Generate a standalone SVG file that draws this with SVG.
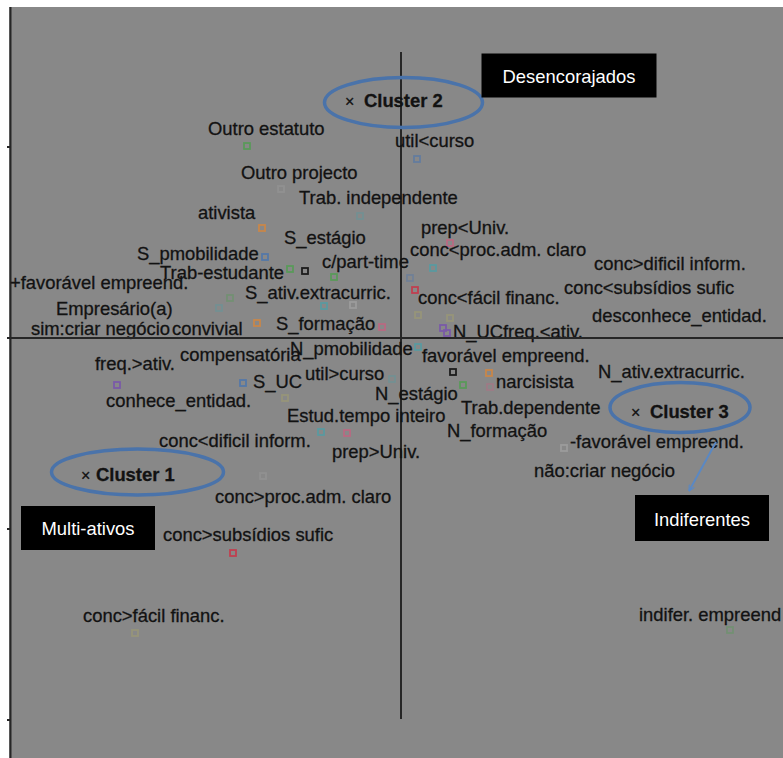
<svg xmlns="http://www.w3.org/2000/svg" width="783" height="758" viewBox="0 0 783 758">
<style>
text{font-family:"Liberation Sans",Arial,sans-serif;font-size:18.4px;fill:#121212;stroke:#121212;stroke-width:0.3}
.lbl{fill:#fff;stroke:none;text-anchor:middle}
.cl{font-weight:bold}
.x{font-weight:normal;font-size:16px}
.axis{stroke:#262626;stroke-width:2;fill:none}
.ell{fill:none;stroke:#4a73aa;stroke-width:3.5}
.box{fill:#000}
.m{fill:none;stroke-width:1.8}
.g{stroke:#5a9a5a}.o{stroke:#c8874a}.b{stroke:#5478a8}.t{stroke:#5a9aa0}.p{stroke:#b86a82}.r{stroke:#c04050}
.v{stroke:#7a5aa8}.d{stroke:#1c1c1c}.gr{stroke:#9c9c9c}.y{stroke:#a8a468}
.f{opacity:0.45}
.arrow{stroke:#5a88c4;stroke-width:2;fill:none}
</style>
<defs>
<marker id="open" viewBox="0 0 12 12" refX="11" refY="6" markerWidth="7" markerHeight="7" orient="auto" markerUnits="userSpaceOnUse">
<path d="M1,1 L11,6 L1,11" fill="none" stroke="#5a88c4" stroke-width="2"/>
</marker>
</defs>
<rect x="0" y="0" width="783" height="758" fill="#fff"/>
<rect x="9" y="7" width="774" height="751" fill="#888"/>
<g id="axes">
<line class="axis" x1="10.5" y1="7" x2="10.5" y2="758" stroke-width="2.5"/>
<line class="axis" x1="7" y1="147" x2="10" y2="147"/>
<line class="axis" x1="7" y1="529" x2="10" y2="529"/>
<line class="axis" x1="7" y1="720" x2="10" y2="720"/>
<line class="axis" x1="401" y1="52" x2="401" y2="719"/>
</g>
<g id="markers">
<rect class="m g" x="244" y="143" width="6" height="6"/>
<rect class="m b" x="414" y="156" width="6" height="6" opacity="0.7"/>
<rect class="m gr f" x="278" y="186" width="6" height="6"/>
<rect class="m t f" x="357" y="213" width="6" height="6"/>
<rect class="m o" x="259" y="225" width="6" height="6"/>
<rect class="m p" x="447" y="240" width="6" height="6"/>
<rect class="m b" x="262" y="254" width="6" height="6"/>
<rect class="m t" x="430" y="265" width="6" height="6"/>
<rect class="m g" x="287" y="266" width="6" height="6"/>
<rect class="m d" x="302" y="268" width="6" height="6"/>
<rect class="m g" x="331" y="274" width="6" height="6"/>
<rect class="m b f" x="407" y="275" width="6" height="6"/>
<rect class="m r" x="412" y="287" width="6" height="6"/>
<rect class="m g f" x="227" y="295" width="6" height="6"/>
<rect class="m t f" x="216" y="305" width="6" height="6"/>
<rect class="m t" x="321" y="303" width="6" height="6"/>
<rect class="m gr" x="350" y="302" width="6" height="6"/>
<rect class="m y f" x="415" y="312" width="6" height="6"/>
<rect class="m y f" x="447" y="315" width="6" height="6"/>
<rect class="m o" x="254" y="320" width="6" height="6"/>
<rect class="m p" x="379" y="324" width="6" height="6"/>
<rect class="m v" x="440" y="325" width="6" height="6"/>
<rect class="m v" x="444" y="330" width="6" height="6"/>
<rect class="m t" x="415" y="344" width="6" height="6"/>
<rect class="m d" x="450" y="369" width="6" height="6"/>
<rect class="m o" x="486" y="370" width="6" height="6"/>
<rect class="m g" x="460" y="382" width="6" height="6"/>
<rect class="m p f" x="487" y="384" width="6" height="6"/>
<rect class="m t f" x="389" y="376" width="6" height="6"/>
<rect class="m b" x="240" y="380" width="6" height="6"/>
<rect class="m v" x="114" y="382" width="6" height="6"/>
<rect class="m y f" x="282" y="395" width="6" height="6"/>
<rect class="m t" x="318" y="429" width="6" height="6"/>
<rect class="m p" x="344" y="430" width="6" height="6"/>
<rect class="m gr f" x="260" y="473" width="6" height="6"/>
<rect class="m gr" x="561" y="445" width="6" height="6"/>
<rect class="m r" x="230" y="550" width="6" height="6"/>
<rect class="m y f" x="132" y="630" width="6" height="6"/>
<rect class="m g f" x="727" y="627" width="6" height="6"/>
</g>
<g id="labels">
<text x="208" y="135">Outro estatuto</text>
<text x="395" y="147">util&lt;curso</text>
<text x="241" y="179">Outro projecto</text>
<text x="299" y="204">Trab. independente</text>
<text x="198" y="218.5">ativista</text>
<text x="421" y="234">prep&lt;Univ.</text>
<text x="284" y="244">S_estágio</text>
<text x="137" y="260">S_pmobilidade</text>
<text x="410" y="256">conc&lt;proc.adm. claro</text>
<text x="322" y="268">c/part-time</text>
<text x="594" y="270">conc&gt;dificil inform.</text>
<text x="160" y="279">Trab-estudante</text>
<text x="10" y="289">+favorável empreend.</text>
<text x="245" y="299">S_ativ.extracurric.</text>
<text x="564" y="294">conc&lt;subsídios sufic</text>
<text x="418" y="304">conc&lt;fácil financ.</text>
<text x="56" y="315">Empresário(a)</text>
<text x="592" y="322">desconhece_entidad.</text>
<text x="276" y="330">S_formação</text>
<text x="31" y="335">sim:criar negócio</text>
<text x="172" y="335">convivial</text>
<text x="453" y="338">N_UC</text>
<text x="503" y="338">freq.&lt;ativ.</text>
<text x="290" y="355">N_pmobilidade</text>
<text x="180" y="361">compensatória</text>
<text x="422" y="362">favorável empreend.</text>
<text x="95" y="370">freq.&gt;ativ.</text>
<text x="305" y="380">util&gt;curso</text>
<text x="598" y="378">N_ativ.extracurric.</text>
<text x="253" y="388">S_UC</text>
<text x="496" y="388">narcisista</text>
<text x="375" y="400">N_estágio</text>
<text x="106" y="407">conhece_entidad.</text>
<text x="461" y="414">Trab.dependente</text>
<text x="287" y="422">Estud.tempo inteiro</text>
<text x="447" y="437">N_formação</text>
<text x="159" y="447">conc&lt;dificil inform.</text>
<text x="570" y="448">-favorável empreend.</text>
<text x="332" y="458">prep&gt;Univ.</text>
<text x="534" y="477">não:criar negócio</text>
<text x="215" y="503">conc&gt;proc.adm. claro</text>
<text x="163" y="541">conc&gt;subsídios sufic</text>
<text x="83" y="622">conc&gt;fácil financ.</text>
<text x="639" y="621">indifer. empreend</text>
</g>
<g id="hAxis">
<line class="axis" x1="7" y1="338" x2="783" y2="338"/>
</g>
<g id="cluster2">
<ellipse class="ell" cx="403.5" cy="102.5" rx="79" ry="25"/>
<text y="107"><tspan class="x" x="345">×</tspan><tspan class="cl" x="364">Cluster 2</tspan></text>
</g>
<g id="cluster1">
<ellipse class="ell" cx="137.5" cy="472" rx="86" ry="23"/>
<text y="481"><tspan class="x" x="81">×</tspan><tspan class="cl" x="96">Cluster 1</tspan></text>
</g>
<g id="cluster3">
<ellipse class="ell" cx="680" cy="407.5" rx="70" ry="25"/>
<text y="418"><tspan class="x" x="631">×</tspan><tspan class="cl" x="650">Cluster 3</tspan></text>
</g>
<g id="desencorajados">
<rect class="box" x="481.5" y="53.5" width="175" height="44"/>
<text class="lbl" x="569" y="83">Desencorajados</text>
</g>
<g id="multi-ativos">
<rect class="box" x="21" y="506" width="134" height="44"/>
<text class="lbl" x="88" y="535">Multi-ativos</text>
</g>
<g id="indiferentes">
<rect class="box" x="635" y="495" width="134" height="46"/>
<text class="lbl" x="702" y="526">Indiferentes</text>
</g>
<g id="connectors">
<line class="arrow" x1="716" y1="442" x2="689" y2="491" marker-end="url(#open)"/>
</g>
</svg>
